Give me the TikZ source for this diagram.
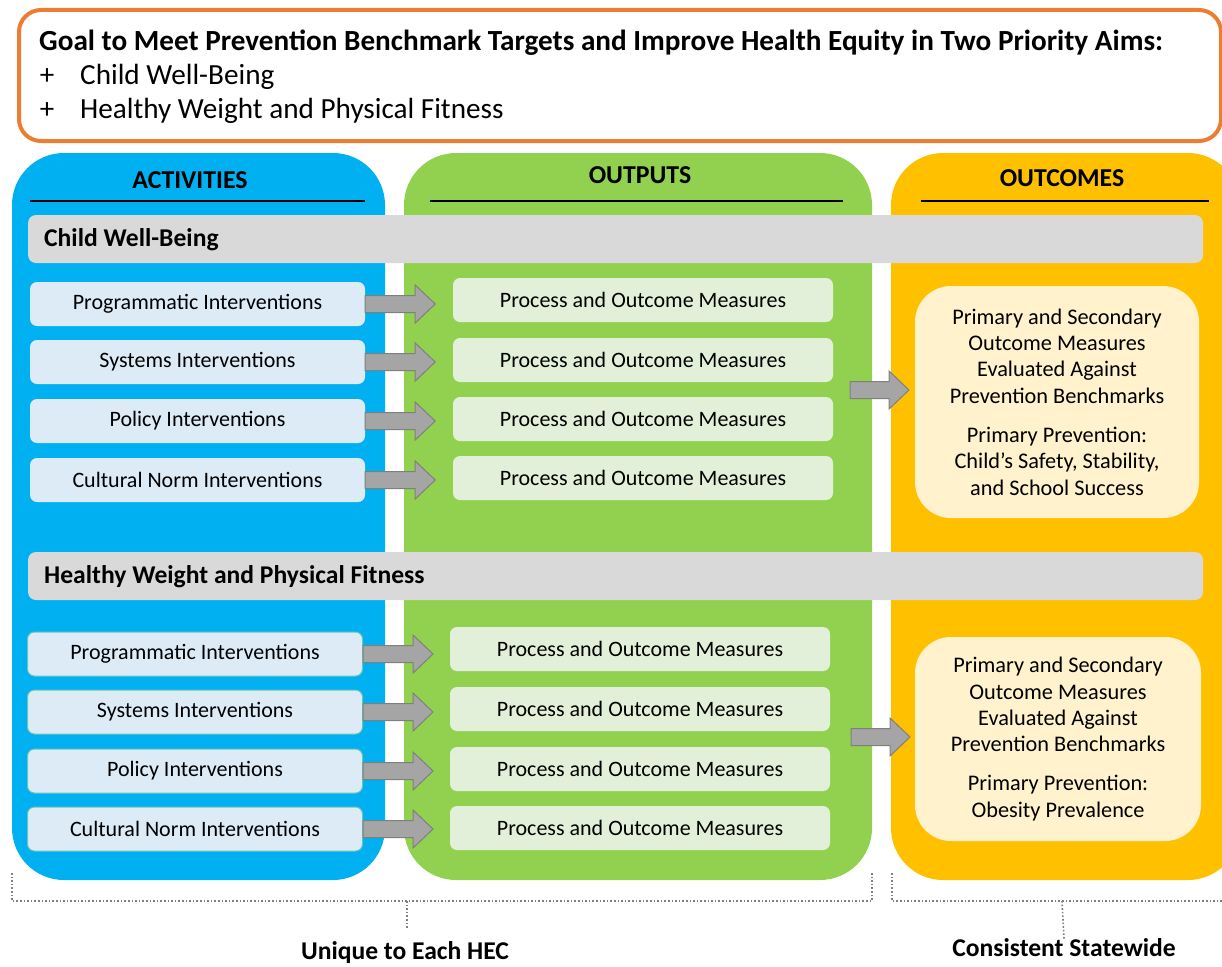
\documentclass[tikz,border=0pt]{standalone}
\usepackage{fontspec}
\setmainfont{Carlito}
\usetikzlibrary{calc}
\definecolor{actcol}{HTML}{00B0F0}
\definecolor{outcol}{HTML}{92D050}
\definecolor{rescol}{HTML}{FFC000}
\definecolor{goalcol}{HTML}{ED7D31}
\definecolor{bandcol}{HTML}{D9D9D9}
\definecolor{actfill}{HTML}{DDEBF7}
\definecolor{outfill}{HTML}{E2F0D9}
\definecolor{resfill}{HTML}{FFF2CC}
\definecolor{arrfill}{HTML}{A5A5A5}
\definecolor{arrline}{HTML}{7F7F7F}
\definecolor{tealedge}{HTML}{6CC4B4}
\newcommand\blockarrow[2]{%
  \draw[blockarr] ($(#1)+(0,8.5)$) -- ++({#2-20},0) -- ++(0,10.5) -- ++(20,-19)
    -- ++(-20,-19) -- ++(0,10.5) -- ++({-(#2-20)},0) -- cycle;}
\begin{document}
\begin{tikzpicture}[x=1pt,y=1pt,
  column/.style={rounded corners=52},
  band/.style={fill=bandcol, rounded corners=8},
  bandtext/.style={anchor=west, font=\bfseries\fontsize{25.6}{30}\selectfont, inner sep=0},
  headtext/.style={font=\bfseries\fontsize{25.8}{30}\selectfont, inner sep=0},
  headline/.style={line width=1.5pt, black},
  actbox/.style={fill=actfill, rounded corners=7, minimum width=335, minimum height=44, inner sep=0, font=\fontsize{22}{26}\selectfont},
  actbox2/.style={actbox, draw=tealedge, line width=1pt},
  outbox/.style={fill=outfill, rounded corners=7, minimum width=380, minimum height=44, inner sep=0, font=\fontsize{22}{26}\selectfont},
  resbox/.style={fill=resfill, rounded corners=36, inner sep=0},
  restext/.style={align=center, font=\fontsize{22.3}{26.3}\selectfont, inner sep=0},
  blockarr/.style={fill=arrfill, draw=arrline, line width=1pt, line join=miter},
  bracket/.style={draw=arrline, line width=1.6pt, dotted},
  bottomtext/.style={font=\bfseries\fontsize{25.6}{30}\selectfont, inner sep=0}
]
\useasboundingbox (0,0) rectangle (1222,-966);
\clip (0,0) rectangle (1222,-966);

% goal box
\draw[goalcol, line width=4pt, rounded corners=22] (19,-10) rectangle (1221,-141);
\node[anchor=west, inner sep=0, font=\bfseries\fontsize{29.2}{33}\selectfont] (goal) at (39,-43)
  {Goal to Meet Prevention Benchmark Targets and Improve Health Equity in Two Priority Aims:};
\node[inner sep=0, font=\fontsize{29}{33}\selectfont] (plus1) at (47,-77) {+};
\node[anchor=west, inner sep=0, font=\fontsize{29.2}{33}\selectfont] (aim1) at (80,-77) {Child Well-Being};
\node[inner sep=0, font=\fontsize{29}{33}\selectfont] (plus2) at (47,-111) {+};
\node[anchor=west, inner sep=0, font=\fontsize{29.2}{33}\selectfont] (aim2) at (80,-111) {Healthy Weight and Physical Fitness};

% columns
\fill[actcol, column] (12,-153) rectangle (385,-880);
\fill[outcol, column] (404,-153) rectangle (872,-880);
\fill[rescol, column] (891,-153) rectangle (1240,-880);

% headers
\node[headtext] (hact) at (190,-180) {ACTIVITIES};
\node[headtext] (hout) at (640,-175) {OUTPUTS};
\node[headtext] (hres) at (1062,-178) {OUTCOMES};
\draw[headline] (30,-201) -- (365,-201);
\draw[headline] (430,-201) -- (843,-201);
\draw[headline] (921,-201) -- (1209,-201);

% bands
\fill[band] (28,-215) rectangle (1203,-263);
\node[bandtext] (band1) at (44,-240) {Child Well-Being};
\fill[band] (28,-552) rectangle (1203,-600);
\node[bandtext] (band2) at (44,-577) {Healthy Weight and Physical Fitness};

% upper activities
\node[actbox] (a1) at (197.5,-304) {Programmatic Interventions};
\node[actbox] (a2) at (197.5,-362) {Systems Interventions};
\node[actbox] (a3) at (197.5,-421) {Policy Interventions};
\node[actbox] (a4) at (197.5,-480) {Cultural Norm Interventions};
\node[outbox] (o1) at (643,-300) {Process and Outcome Measures};
\node[outbox] (o2) at (643,-360) {Process and Outcome Measures};
\node[outbox] (o3) at (643,-419) {Process and Outcome Measures};
\node[outbox] (o4) at (643,-478) {Process and Outcome Measures};
\foreach \n in {a1,a2,a3,a4} {\blockarrow{\n.east}{70}}

\node[resbox, minimum width=284, minimum height=232] (r1) at (1057,-402) {};
\node[restext] (r1t) at (r1.center) {Primary and Secondary\\Outcome Measures\\Evaluated Against\\Prevention Benchmarks\\[13pt]Primary Prevention:\\Child’s Safety, Stability,\\and School Success};
\coordinate (s1) at (850,-390);
\blockarrow{s1}{59}

% lower activities
\node[actbox2] (b1) at (195,-654) {Programmatic Interventions};
\node[actbox2] (b2) at (195,-712) {Systems Interventions};
\node[actbox2] (b3) at (195,-771) {Policy Interventions};
\node[actbox2] (b4) at (195,-829) {Cultural Norm Interventions};
\node[outbox] (p1) at (640,-649) {Process and Outcome Measures};
\node[outbox] (p2) at (640,-709) {Process and Outcome Measures};
\node[outbox] (p3) at (640,-769) {Process and Outcome Measures};
\node[outbox] (p4) at (640,-828) {Process and Outcome Measures};
\foreach \n in {b1,b2,b3,b4} {\blockarrow{\n.east}{70}}

\node[resbox, minimum width=286, minimum height=204] (r2) at (1058,-739) {};
\node[restext] (r2t) at (r2.center) {Primary and Secondary\\Outcome Measures\\Evaluated Against\\Prevention Benchmarks\\[13pt]Primary Prevention:\\Obesity Prevalence};
\coordinate (s2) at (851,-737);
\blockarrow{s2}{59}

% brackets
\draw[bracket] (12,-873) -- (12,-901) -- (872,-901) -- (872,-873);
\draw[bracket] (407,-901) -- (407,-929);
\draw[bracket] (892,-873) -- (892,-901) -- (1230,-901);
\coordinate (c2) at (1062,-901);
\node[bottomtext] (uniq) at (405,-953) {Unique to Each HEC};
\node[bottomtext] (cons) at (1064,-948) {Consistent Statewide};
\draw[bracket] (c2) -- (cons.north);
\end{tikzpicture}
\end{document}
